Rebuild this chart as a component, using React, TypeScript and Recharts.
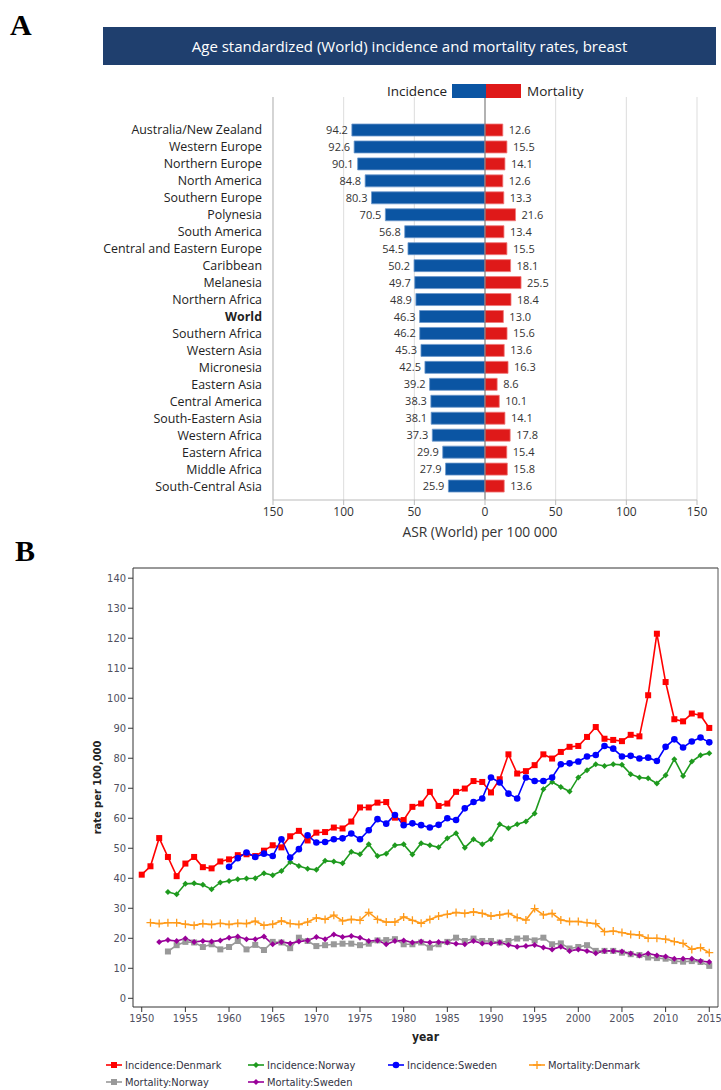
import React from "react";
import {
  Bar,
  BarChart,
  CartesianGrid,
  LabelList,
  Line,
  LineChart,
  ReferenceLine,
  XAxis,
  YAxis,
} from "recharts";

// ---- Panel A: age standardized rates by region ----
const regions = [
  "Australia/New Zealand",
  "Western Europe",
  "Northern Europe",
  "North America",
  "Southern Europe",
  "Polynesia",
  "South America",
  "Central and Eastern Europe",
  "Caribbean",
  "Melanesia",
  "Northern Africa",
  "World",
  "Southern Africa",
  "Western Asia",
  "Micronesia",
  "Eastern Asia",
  "Central America",
  "South-Eastern Asia",
  "Western Africa",
  "Eastern Africa",
  "Middle Africa",
  "South-Central Asia",
];
const incidence = [
  94.2, 92.6, 90.1, 84.8, 80.3, 70.5, 56.8, 54.5, 50.2, 49.7, 48.9, 46.3, 46.2,
  45.3, 42.5, 39.2, 38.3, 38.1, 37.3, 29.9, 27.9, 25.9,
];
const mortality = [
  12.6, 15.5, 14.1, 12.6, 13.3, 21.6, 13.4, 15.5, 18.1, 25.5, 18.4, 13.0, 15.6,
  13.6, 16.3, 8.6, 10.1, 14.1, 17.8, 15.4, 15.8, 13.6,
];
const asrTicks = [-150, -100, -50, 0, 50, 100, 150];

// ---- Panel B: Nordic trends 1950-2015 ----
const firstYear = 1950;
const incDenmark = [
  41.2, 44, 53.4, 47.1, 40.7, 44.9, 47.1, 43.7, 43.3, 45.6,
  46.3, 47.7, 48, 47.4, 49.2, 51, 50.3, 54, 55.8, 52.6,
  55.2, 55.4, 56.9, 56.6, 58.9, 63.6, 63.6, 65.2, 65.4, 60.2,
  59.4, 63.8, 64.9, 68.8, 64.1, 64.9, 68.8, 69.9, 72.4, 72.1,
  68.6, 73, 81.3, 74.9, 75.7, 77.7, 81.3, 79.9, 82.1, 83.8,
  84.1, 87.1, 90.4, 86.5, 86.1, 85.7, 87.8, 87.3, 101, 121.5,
  105.4, 93, 92.3, 94.9, 94.3, 90.1,
];
const incNorway = [
  null, null, null, 35.4, 34.7, 38.2, 38.3, 37.8, 36.3, 38.6,
  39.1, 39.7, 39.9, 40, 41.7, 41, 42.4, 45.4, 44.1, 43.2,
  42.8, 45.8, 45.6, 45, 48.8, 48, 51.3, 47.4, 48.2, 51,
  51.3, 47.9, 51.7, 51, 50.3, 53.3, 55, 50.2, 53, 51.3,
  53, 58, 56.7, 58, 58.9, 61.6, 69.7, 72.1, 70.4, 68.9,
  73.6, 76, 78, 77.4, 78, 77.8, 74.7, 73.6, 73.3, 71.6,
  74.3, 79.7, 74.1, 78.9, 81, 81.7,
];
const incSweden = [
  null, null, null, null, null, null, null, null, null, null,
  43.8, 46.7, 48.6, 47.1, 48.2, 47.4, 53, 46.9, 49.7, 54.3,
  51.9, 52.1, 53, 53.3, 54.9, 53, 56, 59.7, 58.2, 61.1,
  57.7, 58.3, 57.7, 56.9, 57.8, 60, 59.4, 63.3, 65.4, 66.6,
  73.6, 71.9, 68.2, 66.6, 73.6, 72.4, 72.4, 73.6, 78, 78.3,
  78.9, 80.6, 81.1, 84.1, 83.2, 80.6, 80.8, 79.9, 80.2, 79.1,
  83.8, 86.3, 83.6, 85.6, 86.9, 85.3,
];
const mortDenmark = [
  null, 25.2, 24.9, 25.2, 25.2, 24.7, 24.3, 24.9, 24.6, 25,
  24.6, 25, 24.9, 25.7, 24.3, 24.7, 25.8, 24.9, 24.6, 25.4,
  26.8, 26.3, 27.7, 25.8, 26.3, 26, 28.6, 26.3, 25.4, 25.4,
  27.1, 26, 25, 26.3, 27.4, 28, 28.6, 28.3, 28.8, 28.3,
  27.4, 27.8, 28.3, 26.9, 26.1, 29.9, 27.8, 28.3, 26.1, 25.6,
  25.6, 25.2, 24.9, 22.2, 22.4, 21.9, 21.3, 21.1, 20, 20,
  19.7, 18.9, 18.3, 16.3, 16.9, 15.2,
];
const mortNorway = [
  null, null, null, 15.6, 17.7, 18.8, 18.6, 17.1, 18, 16.3,
  17.1, 19.1, 16.3, 17.8, 16.1, 18.8, 18.6, 16.7, 20.2, 19.1,
  17.4, 17.7, 18, 18.2, 18.2, 17.7, 18.2, 19.3, 19.4, 19.7,
  18, 18, 18.6, 16.9, 18, 18.8, 20.2, 19.1, 19.9, 19.1,
  19.1, 18.6, 19.1, 19.9, 20, 19.3, 20.2, 18, 18.3, 16.6,
  17.1, 17.7, 15.8, 15.8, 15.8, 15.2, 14.7, 14.4, 13.6, 13.4,
  13.2, 12.4, 12.2, 12.4, 12.1, 10.8,
];
const mortSweden = [
  null, null, 18.8, 19.4, 19.1, 19.9, 18.8, 19.1, 18.9, 19.3,
  20.2, 20.6, 19.7, 19.7, 20.6, 18, 18.8, 18.3, 18.9, 19.3,
  20.4, 19.7, 21.3, 20.4, 20.8, 20.2, 19.1, 19.3, 18, 19.1,
  19.3, 18.6, 18.9, 18.6, 18.8, 18.6, 18.2, 18, 19.1, 18.3,
  18.3, 18.6, 17.8, 17.2, 17.4, 17.8, 16.9, 16.3, 17.2, 15.8,
  16.3, 15.8, 15, 15.8, 15.8, 15.6, 14.9, 14.3, 14.9, 14.3,
  13.9, 13.2, 13.2, 13.2, 12.4, 12.1,
];
const yearTicks = [
  1950, 1955, 1960, 1965, 1970, 1975, 1980, 1985, 1990, 1995, 2000, 2005, 2010,
  2015,
];
const rateTicks = [0, 10, 20, 30, 40, 50, 60, 70, 80, 90, 100, 110, 120, 130, 140];

const SANS = "'Open Sans', 'Noto Sans', sans-serif";
const TAHOMA = "'DejaVu Sans Condensed', 'DejaVu Sans', sans-serif";

const asrData = regions.map((region, i) => ({
  region,
  inc: -incidence[i],
  mort: mortality[i],
  incVal: incidence[i],
  mortVal: mortality[i],
}));

const trendData = incDenmark.map((_, i) => ({
  year: firstYear + i,
  incDenmark: incDenmark[i],
  incNorway: incNorway[i],
  incSweden: incSweden[i],
  mortDenmark: mortDenmark[i],
  mortNorway: mortNorway[i],
  mortSweden: mortSweden[i],
}));

type Shape = "square" | "circle" | "diamond" | "plus";

const series: { key: string; name: string; color: string; shape: Shape }[] = [
  { key: "incDenmark", name: "Incidence:Denmark", color: "#ff0000", shape: "square" },
  { key: "incNorway", name: "Incidence:Norway", color: "#1e9a1e", shape: "diamond" },
  { key: "incSweden", name: "Incidence:Sweden", color: "#0000ff", shape: "circle" },
  { key: "mortDenmark", name: "Mortality:Denmark", color: "#ff9a1a", shape: "plus" },
  { key: "mortNorway", name: "Mortality:Norway", color: "#999999", shape: "square" },
  { key: "mortSweden", name: "Mortality:Sweden", color: "#990099", shape: "diamond" },
];

function marker(shape: Shape, cx: number, cy: number, color: string, key?: string) {
  if (shape === "square")
    return <rect key={key} x={cx - 3} y={cy - 3} width={6} height={6} fill={color} />;
  if (shape === "circle") return <circle key={key} cx={cx} cy={cy} r={3.3} fill={color} />;
  if (shape === "diamond")
    return (
      <path
        key={key}
        d={`M${cx},${cy - 3}L${cx + 3},${cy}L${cx},${cy + 3}L${cx - 3},${cy}Z`}
        fill={color}
      />
    );
  return (
    <path
      key={key}
      d={`M${cx - 4},${cy}H${cx + 4}M${cx},${cy - 4}V${cy + 4}`}
      stroke={color}
      strokeWidth={1.3}
    />
  );
}

const RegionTick = ({ x, y, payload }: any) => (
  <text
    x={x}
    y={y}
    dy={4}
    textAnchor="end"
    fontSize={12.4}
    fontFamily={SANS}
    fill="#222"
    fontWeight={payload.value === "World" ? 700 : 400}
  >
    {payload.value}
  </text>
);

const IncLabel = (p: any) => {
  const left = Math.min(p.x, p.x + p.width);
  return (
    <text x={left - 4} y={p.y + p.height / 2} dy={4} textAnchor="end" fontSize={11} fontFamily={SANS} fill="#333">
      {Number(p.value).toFixed(1)}
    </text>
  );
};

const MortLabel = (p: any) => {
  const right = Math.max(p.x, p.x + p.width);
  return (
    <text x={right + 6} y={p.y + p.height / 2} dy={4} textAnchor="start" fontSize={11} fontFamily={SANS} fill="#333">
      {Number(p.value).toFixed(1)}
    </text>
  );
};

function PanelA() {
  return (
    <>
      <div style={{ position: "absolute", left: 10, top: 8, fontFamily: "'Liberation Serif', serif", fontWeight: 700, fontSize: 30 }}>
        A
      </div>
      <div
        style={{
          position: "absolute",
          left: 103,
          top: 27,
          width: 613,
          height: 38,
          background: "#1f3f6e",
          color: "#fff",
          fontFamily: SANS,
          fontSize: 15,
          lineHeight: "38px",
          textAlign: "center",
        }}
      >
        Age standardized (World) incidence and mortality rates, breast
      </div>
      <div style={{ position: "absolute", left: 0, top: 0 }}>
        <BarChart
          width={721}
          height={545}
          data={asrData}
          layout="vertical"
          stackOffset="sign"
          margin={{ top: 97, right: 24, left: 0, bottom: 0 }}
        >
          <CartesianGrid horizontal={false} stroke="#dddddd" />
          <XAxis
            type="number"
            domain={[-150, 150]}
            ticks={asrTicks}
            tickFormatter={(v) => String(Math.abs(v))}
            height={45}
            stroke="#bbbbbb"
            tickSize={5}
            tickMargin={2}
            tick={{ fill: "#333", fontSize: 12, fontFamily: SANS }}
            label={{
              value: "ASR (World) per 100 000",
              position: "insideBottom",
              offset: 8,
              dx: -5,
              fill: "#333",
              fontSize: 13.8,
              fontFamily: SANS,
            }}
          />
          <YAxis
            type="category"
            dataKey="region"
            width={273}
            padding={{ top: 25, bottom: 5 }}
            stroke="#bbbbbb"
            tickLine={false}
            tickSize={6}
            tickMargin={5}
            interval={0}
            tick={<RegionTick />}
          />
          <ReferenceLine x={0} stroke="#777" />
          <Bar dataKey="inc" stackId="a" fill="#0b55a3" stroke="#6c98cc" strokeWidth={0.8} barSize={12} isAnimationActive={false}>
            <LabelList dataKey="incVal" content={IncLabel} />
          </Bar>
          <Bar dataKey="mort" stackId="a" fill="#df1919" stroke="#f07a7a" strokeWidth={0.8} barSize={12} isAnimationActive={false}>
            <LabelList dataKey="mortVal" content={MortLabel} />
          </Bar>
        </BarChart>
      </div>
      <div style={{ position: "absolute", left: 360, top: 82, width: 87, textAlign: "right", fontFamily: SANS, fontSize: 13.5, color: "#222", lineHeight: "18px" }}>
        Incidence
      </div>
      <div style={{ position: "absolute", left: 452, top: 84, width: 34, height: 14, background: "#0b55a3" }} />
      <div style={{ position: "absolute", left: 486, top: 84, width: 35, height: 14, background: "#df1919" }} />
      <div style={{ position: "absolute", left: 527, top: 82, fontFamily: SANS, fontSize: 13.5, color: "#222", lineHeight: "18px" }}>
        Mortality
      </div>
    </>
  );
}

function PanelB() {
  return (
    <>
      <div style={{ position: "absolute", left: 15, top: 534, fontFamily: "'Liberation Serif', serif", fontWeight: 700, fontSize: 30 }}>
        B
      </div>
      <div style={{ position: "absolute", left: 0, top: 540 }}>
        <LineChart width={721} height={550} data={trendData} margin={{ top: 28, right: 3, left: 61, bottom: 49 }}>
          <XAxis
            dataKey="year"
            type="number"
            domain={[1949, 2016]}
            ticks={yearTicks}
            allowDataOverflow
            height={34}
            stroke="#333"
            tickSize={5}
            tickMargin={2}
            tick={{ fill: "#505060", fontSize: 11, fontFamily: TAHOMA }}
            label={{ value: "year", position: "insideBottom", offset: 0, fill: "#222", fontSize: 12, fontWeight: 700, fontFamily: TAHOMA }}
          />
          <YAxis
            type="number"
            domain={[-2.9, 143.4]}
            ticks={rateTicks}
            allowDataOverflow
            width={72}
            stroke="#333"
            tickSize={5}
            tickMargin={2}
            tick={{ fill: "#505060", fontSize: 11, fontFamily: TAHOMA }}
            label={{ value: "rate per 100,000", angle: -90, position: "center", fill: "#222", fontSize: 11, fontWeight: 700, fontFamily: TAHOMA }}
          />
          <ReferenceLine y={143.4} stroke="#333" />
          <ReferenceLine x={2016} stroke="#555" />
          {series.map((s) => (
            <Line
              key={s.key}
              dataKey={s.key}
              name={s.name}
              stroke={s.color}
              strokeWidth={1.6}
              isAnimationActive={false}
              activeDot={false}
              dot={(p: any) =>
                p.value == null || p.cy == null ? (
                  <g key={`${s.key}-${p.index}`} />
                ) : (
                  marker(s.shape, p.cx, p.cy, s.color, `${s.key}-${p.index}`)
                )
              }
            />
          ))}
        </LineChart>
      </div>
      {series.map((s, i) => {
        const col = i % 4;
        const row = Math.floor(i / 4);
        const left = [106, 248, 388, 529][col];
        const top = 1058 + row * 17;
        return (
          <div key={s.key} style={{ position: "absolute", left, top, height: 14, display: "flex", alignItems: "center" }}>
            <svg width={16} height={14}>
              <line x1={0} x2={16} y1={7} y2={7} stroke={s.color} strokeWidth={1.6} />
              {marker(s.shape, 8, 7, s.color)}
            </svg>
            <span style={{ marginLeft: 3, fontFamily: TAHOMA, fontSize: 11, color: "#333344" }}>{s.name}</span>
          </div>
        );
      })}
    </>
  );
}

export default function App() {
  return (
    <div style={{ position: "absolute", left: 0, top: 0, width: 721, height: 1090, background: "#fff", overflow: "hidden" }}>
      <PanelA />
      <PanelB />
    </div>
  );
}
